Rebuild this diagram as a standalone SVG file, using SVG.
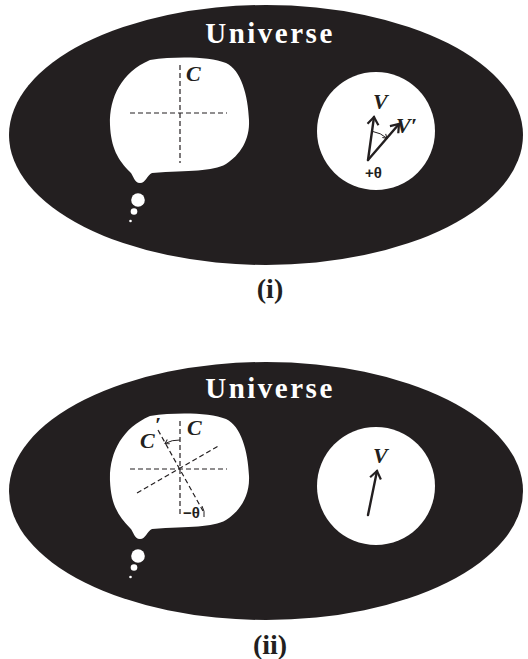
<svg xmlns="http://www.w3.org/2000/svg" width="528" height="659" viewBox="0 0 528 659">
<style>
.bg{fill:#231f20}
.wh{fill:#ffffff}
.dash{stroke:#231f20;stroke-width:1.2;stroke-dasharray:5,3;fill:none}
.vec{stroke:#231f20;stroke-width:2.4;fill:none;stroke-linecap:round}
.thin{stroke:#231f20;stroke-width:1;fill:none}
.title{font-family:"Liberation Serif",serif;font-weight:bold;font-size:29px;letter-spacing:2.5px;fill:#ffffff;text-anchor:middle}
.cap{font-family:"Liberation Serif",serif;font-weight:bold;font-size:28px;fill:#231f20;text-anchor:middle}
.lab{font-family:"Liberation Serif",serif;font-weight:bold;font-style:italic;font-size:22px;fill:#231f20}
.ang{font-family:"Liberation Sans",sans-serif;font-weight:bold;font-size:15px;fill:#231f20}
</style>
<defs>
<marker id="chev" markerUnits="userSpaceOnUse" markerWidth="20" markerHeight="20" refX="10" refY="10" orient="auto" overflow="visible">
<path d="M2.5,4.5 L10,10 L2.5,15.5" fill="none" stroke="#231f20" stroke-width="2.2"/>
</marker>
<marker id="chevs" markerUnits="userSpaceOnUse" markerWidth="10" markerHeight="10" refX="5" refY="5" orient="auto" overflow="visible">
<path d="M1,2.5 L5,5 L1,7.5" fill="none" stroke="#231f20" stroke-width="1"/>
</marker>
<g id="bubbleShape">
<path class="wh" d="M150,60 C178,56 210,57 226,63 C241,70 248,95 249,120 C250,140 240,155 226,164 C212,172 190,170 152,173 C147,175 146,183 140,183 C134,183 134,176 130,172 C118,160 111,148 110,125 C109,97 122,72 150,60 Z"/>
<circle class="wh" cx="138" cy="200" r="6.8"/>
<circle class="wh" cx="134" cy="211.5" r="3.3"/>
<circle class="wh" cx="130.5" cy="221" r="1.3"/>
</g>
</defs>

<g id="panel-i">
<ellipse class="bg" cx="266" cy="135" rx="257" ry="130"/>
<text class="title" x="270" y="43">Universe</text>
<g id="thought-i">
<use href="#bubbleShape"/>
<line class="dash" x1="180" y1="65" x2="180" y2="163"/>
<line class="dash" x1="130" y1="113" x2="227" y2="113"/>
<text class="lab" x="186" y="81">C</text>
</g>
<g id="world-i">
<circle class="wh" cx="376" cy="131" r="59"/>
<text class="lab" x="373" y="109">V</text>
<text class="lab" x="396" y="133">V′</text>
<text class="ang" x="365" y="178">+θ</text>
</g>
<text class="cap" x="270" y="298">(i)</text>
</g>

<g id="panel-ii">
<ellipse class="bg" cx="266" cy="491" rx="257" ry="129"/>
<text class="title" x="270" y="398">Universe</text>
<g id="thought-ii">
<use href="#bubbleShape" transform="translate(0,356)"/>
<line class="dash" x1="180" y1="421" x2="180" y2="517"/>
<line class="dash" x1="130" y1="469" x2="227" y2="469"/>
<line class="dash" x1="158" y1="430" x2="203" y2="511"/>
<line class="dash" x1="137" y1="493" x2="220" y2="445"/>
<text class="lab" x="187" y="435">C</text>
<text class="lab" x="140" y="448">C<tspan dx="0" dy="-16">′</tspan></text>
<text class="ang" x="183" y="518">−θ</text>
<path class="thin" d="M202,506 Q205,511 204,517"/>
</g>
<g id="world-ii">
<circle class="wh" cx="376" cy="486" r="59"/>
<text class="lab" x="373" y="463">V</text>
</g>
<text class="cap" x="270" y="654">(ii)</text>
</g>

<g id="connectors">
<line class="vec" x1="368" y1="160" x2="374" y2="117" marker-end="url(#chev)"/>
<line class="vec" x1="368" y1="160" x2="399" y2="124" marker-end="url(#chev)"/>
<path class="thin" d="M372.5,131.4 A29,29 0 0 1 387,138.3" marker-end="url(#chevs)"/>
<path class="thin" d="M180,440 A29,29 0 0 0 165,443.5" marker-end="url(#chevs)"/>
<line class="vec" x1="368" y1="515" x2="377" y2="471" marker-end="url(#chev)"/>
</g>
</svg>
